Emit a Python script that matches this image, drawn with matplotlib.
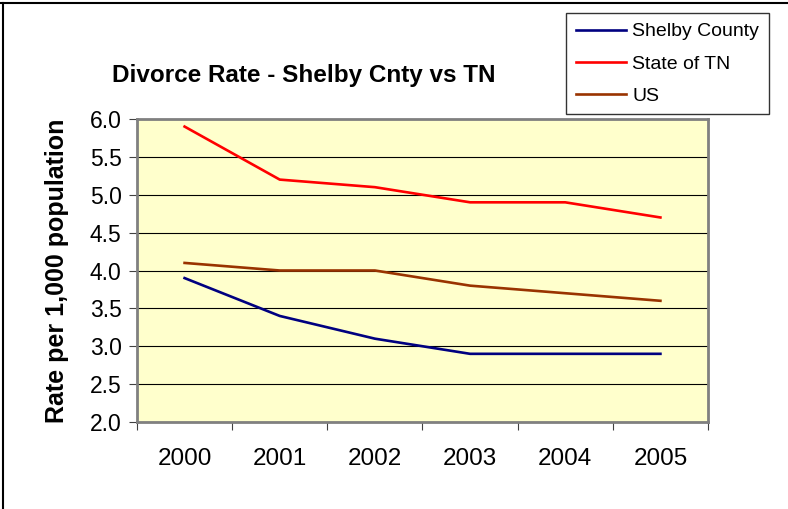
import matplotlib
matplotlib.use("Agg")
import matplotlib.pyplot as plt
from matplotlib.lines import Line2D

years = ["2000", "2001", "2002", "2003", "2004", "2005"]
shelby = [3.9, 3.4, 3.1, 2.9, 2.9, 2.9]
state_tn = [5.9, 5.2, 5.1, 4.9, 4.9, 4.7]
us = [4.1, 4.0, 4.0, 3.8, 3.7, 3.6]
y_ticks = [2.0, 2.5, 3.0, 3.5, 4.0, 4.5, 5.0, 5.5, 6.0]

plt.rcParams["font.family"] = ["Liberation Sans", "DejaVu Sans"]

fig = plt.figure(figsize=(7.88, 5.09), dpi=100)
ax = fig.add_axes([137 / 788, 1 - 422 / 509, (708 - 137) / 788, (422 - 119) / 509])
ax.set_facecolor("#FFFFCC")

x = list(range(len(years)))
ax.plot(x, shelby, color="#000080", lw=1.9, label="Shelby County")
ax.plot(x, state_tn, color="#FF0000", lw=1.9, label="State of TN")
ax.plot(x, us, color="#993300", lw=1.9, label="US")

ax.set_xlim(-0.5, len(years) - 0.5)
ax.set_ylim(2.0, 6.0)
ax.set_yticks(y_ticks)
ax.set_yticklabels([f"{v:.1f}" for v in y_ticks], fontsize=16.5)
ax.set_xticks([i - 0.5 for i in range(len(years) + 1)])
ax.set_xticklabels([])
ax.set_xticks(x, minor=True)
ax.set_xticklabels(years, minor=True, fontsize=17.5)
ax.tick_params(axis="x", which="minor", length=0, pad=19)
ax.tick_params(axis="x", which="major", length=6, color="#404040", direction="out")
ax.tick_params(axis="y", length=6, color="#404040", direction="out", pad=5)

ax.grid(axis="y", color="black", lw=0.8)
ax.set_axisbelow(True)
for s in ax.spines.values():
    s.set_color("#808080")
    s.set_linewidth(2)

ax.set_ylabel("Rate per 1,000 population", fontsize=18, fontweight="bold", labelpad=15)

fig.text(0.385, 0.851, "Divorce Rate - Shelby Cnty vs TN", fontsize=17.5,
         fontweight="bold", ha="center", va="center")

leg = fig.legend(loc="upper left", bbox_to_anchor=(566 / 788, 1 - 13 / 509),
                 fontsize=14, frameon=True, fancybox=False, handlelength=2.6,
                 handletextpad=0.3, borderpad=0.5, labelspacing=0.75,
                 borderaxespad=0)
leg.get_frame().set_edgecolor("black")
leg.get_frame().set_linewidth(1)

# outer chart border (partially cropped)
fig.add_artist(Line2D([0, 1], [0.994, 0.994], color="black", lw=1.5, transform=fig.transFigure))
fig.add_artist(Line2D([0.004, 0.004], [0, 0.994], color="black", lw=1.5, transform=fig.transFigure))

fig.savefig("out.png", dpi=100)
